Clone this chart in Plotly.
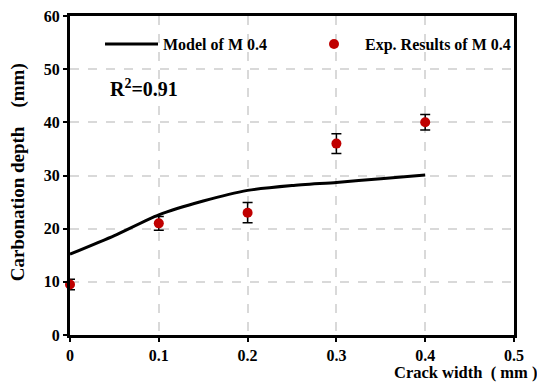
import plotly.graph_objects as go

# Data
model_x = [0, 0.05, 0.1, 0.15, 0.2, 0.25, 0.3, 0.35, 0.4]
model_y = [15.2, 18.7, 22.6, 25.2, 27.2, 28.1, 28.7, 29.4, 30.1]
exp_x = [0, 0.1, 0.2, 0.3, 0.4]
exp_y = [9.5, 21.0, 23.0, 36.0, 40.0]
exp_err = [1.0, 1.3, 1.9, 1.85, 1.45]
x_ticks = [0, 0.1, 0.2, 0.3, 0.4, 0.5]
x_tick_labels = ["0", "0.1", "0.2", "0.3", "0.4", "0.5"]
y_ticks = [0, 10, 20, 30, 40, 50, 60]

FONT = "Liberation Serif"

fig = go.Figure()
fig.add_trace(go.Scatter(
    x=model_x, y=model_y, mode="lines", name="<b>Model of M 0.4</b>",
    line=dict(color="black", width=3, shape="spline", smoothing=0.6),
    legend="legend",
))
fig.add_trace(go.Scatter(
    x=exp_x, y=exp_y, mode="markers", name="<b>Exp. Results of M 0.4</b>",
    marker=dict(color="#c00000", size=10),
    error_y=dict(type="data", array=exp_err, color="black", thickness=1.5, width=5),
    cliponaxis=False,
    legend="legend2",
))

fig.add_annotation(
    x=0.043, y=46.5, xref="x", yref="y", xanchor="left", yanchor="middle",
    text="<b>R<sup>2</sup>=0.91</b>", showarrow=False,
    font=dict(family=FONT, size=20, color="black"),
)

axis_common = dict(
    showline=True, linecolor="black", linewidth=3, mirror=True,
    showgrid=True, gridcolor="#d9d9d9", griddash="dash", gridwidth=1.5,
    ticks="outside", ticklen=4, tickcolor="black", tickwidth=2,
    zeroline=False,
    tickfont=dict(family=FONT, size=16, color="black", weight="bold"),
)

legend_common = dict(
    yanchor="middle", xanchor="left", bgcolor="rgba(0,0,0,0)",
    font=dict(family=FONT, size=16, color="black"),
)

fig.update_layout(
    width=537, height=386,
    margin=dict(l=70, r=23, t=16, b=51, autoexpand=False),
    paper_bgcolor="white", plot_bgcolor="white",
    font=dict(family=FONT, color="black"),
    xaxis=dict(range=[0, 0.5], tickvals=x_ticks, ticktext=x_tick_labels, **axis_common),
    yaxis=dict(range=[0, 60], tickvals=y_ticks, **axis_common),
    showlegend=True,
    legend=dict(x=0.0676, y=0.912, itemwidth=53, **legend_common),
    legend2=dict(x=0.5248, y=0.912, itemwidth=52, **legend_common),
)

fig.add_annotation(
    x=0.891, y=-0.082, xref="paper", yref="paper", xanchor="center", yanchor="top",
    text="<b>Crack width  ( mm )</b>", showarrow=False,
    font=dict(family=FONT, size=16.5, color="black"),
)
fig.add_annotation(
    x=-0.118, y=0.509, xref="paper", yref="paper", xanchor="center", yanchor="middle",
    text="<b>Carbonation depth    (mm)</b>", showarrow=False, textangle=-90,
    font=dict(family=FONT, size=19, color="black"),
)

fig.write_html("out.html")
